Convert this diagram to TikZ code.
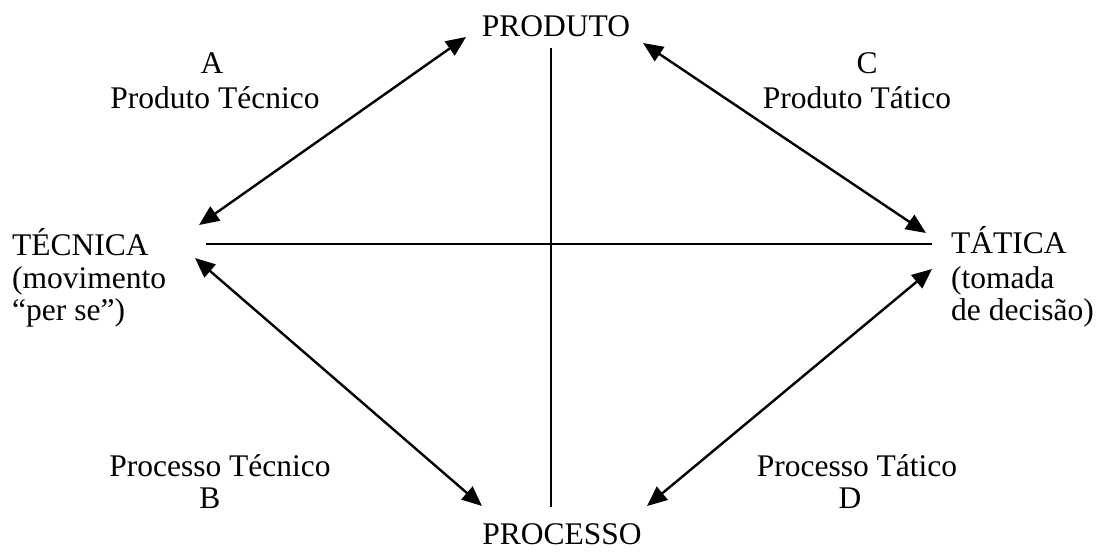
\documentclass[tikz,border=0pt]{standalone}
\usepackage{fontspec}
\setmainfont{Liberation Serif}
\usetikzlibrary{arrows.meta}
\tikzset{
  lbl/.style={inner sep=0pt, font=\fontsize{31.5}{33}\selectfont},
  axis/.style={line width=1.8pt},
  dbl/.style={line width=2.4pt, {Triangle[length=20pt,width=17pt]}-{Triangle[length=20pt,width=17pt]}}
}
\begin{document}
\begin{tikzpicture}[x=1pt,y=-1pt]
\useasboundingbox (0,0) rectangle (1099,551);
% labels
\node[lbl, anchor=base] (produto) at (556,37) {PRODUTO};
\node[lbl, anchor=base] (processo) at (562,544) {PROCESSO};
\node[lbl, anchor=base west] (tec1) at (12,255) {TÉCNICA};
\node[lbl, anchor=base west] (tec2) at (12,288) {(movimento};
\node[lbl, anchor=base west] (tec3) at (12,320) {“per se”)};
\node[lbl, anchor=base west] (tat1) at (951,253) {TÁTICA};
\node[lbl, anchor=base west] (tat2) at (951,288) {(tomada};
\node[lbl, anchor=base west] (tat3) at (951,320) {de decisão)};
\node[lbl, anchor=base] (a) at (212,73) {A};
\node[lbl, anchor=base] (pt) at (215,108) {Produto Técnico};
\node[lbl, anchor=base] (c) at (867,73) {C};
\node[lbl, anchor=base] (pta) at (857,108) {Produto Tático};
\node[lbl, anchor=base] (prt) at (220,476) {Processo Técnico};
\node[lbl, anchor=base] (b) at (210,508) {B};
\node[lbl, anchor=base] (prta) at (857,476) {Processo Tático};
\node[lbl, anchor=base] (d) at (850,508) {D};
% axes
\coordinate (vt) at (551,48);
\coordinate (vb) at (551,507);
\coordinate (hl) at (206,244);
\coordinate (hr) at (932,244);
\draw[axis] (vt) -- (vb);
\draw[axis] (hl) -- (hr);
% arrow ends
\coordinate (a1) at (199,225);
\coordinate (a2) at (466,37);
\coordinate (b1) at (195,258);
\coordinate (b2) at (482,506);
\coordinate (c1) at (643,43);
\coordinate (c2) at (926,233);
\coordinate (d1) at (932,269);
\coordinate (d2) at (647,506);
\draw[dbl] (a1) -- (a2);
\draw[dbl] (b1) -- (b2);
\draw[dbl] (c1) -- (c2);
\draw[dbl] (d1) -- (d2);
\end{tikzpicture}
\end{document}
